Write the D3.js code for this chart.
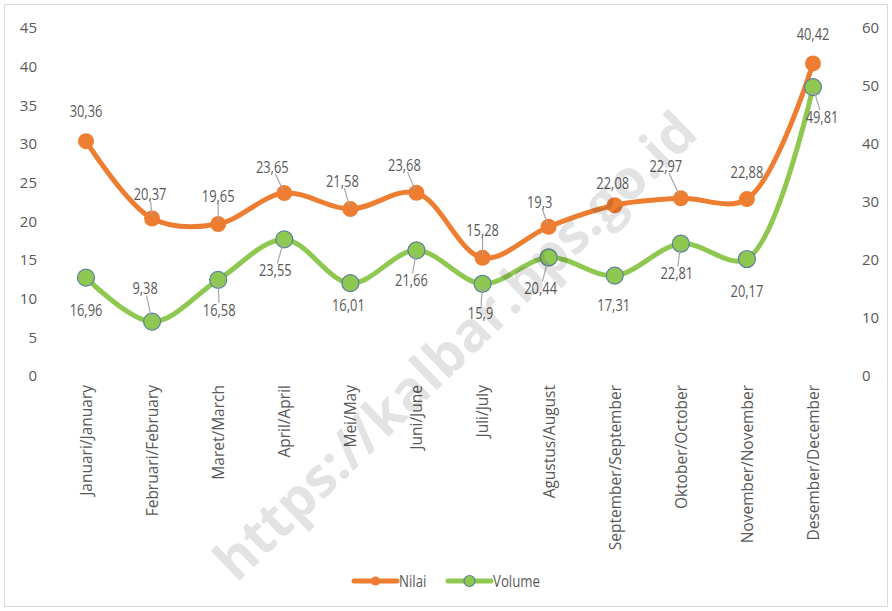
<!DOCTYPE html>
<html>
<head>
<meta charset="utf-8">
<script src="https://cdn.jsdelivr.net/npm/d3@7"></script>
<style>
  html, body { margin: 0; padding: 0; background: #fff; }
  svg { display: block; }
  .num { font-family: "Open Sans", sans-serif; }
  .tick text { font-family: "Open Sans", sans-serif; fill: #595959; }
</style>
</head>
<body>
<svg id="chart" width="892" height="611"></svg>
<script>
// ---- data ----
const months = ["Januari/January", "Februari/February", "Maret/March", "April/April", "Mei/May", "Juni/June",
  "Juli/July", "Agustus/August", "September/September", "Oktober/October", "November/November", "Desember/December"];
const nilai = [30.36, 20.37, 19.65, 23.65, 21.58, 23.68, 15.28, 19.3, 22.08, 22.97, 22.88, 40.42];
const volume = [16.96, 9.38, 16.58, 23.55, 16.01, 21.66, 15.9, 20.44, 17.31, 22.81, 20.17, 49.81];
const leftTicks = [0, 5, 10, 15, 20, 25, 30, 35, 40, 45];
const rightTicks = [0, 10, 20, 30, 40, 50, 60];
const seriesNames = ["Nilai", "Volume"];

// ---- label layout (offsets from point, leader flags) ----
const nilaiLabelOffset = [[0,-30],[-2,-24],[0,-28],[-12,-26],[-8,-28],[-12,-28],[0,-28],[-9,-25],[-2,-22],[-15,-32],[0,-27],[0,-29]];
const nilaiLeader = [0,1,1,1,1,1,1,1,0,1,0,0];
const volumeLabelOffset = [[0,33],[-7,-33],[1,30],[-9,31],[-2,22],[-5,30],[-2,29],[-8,31],[-1,30],[-4,30],[0,32],[9,30]];
const volumeLeader = [0,1,1,1,0,1,1,1,0,1,0,1];

const orange = "#ED7D31", green = "#8FC851", markerStroke = "#5A7EA3", textGray = "#595959";
const narrow = 0.78;

const svg = d3.select("#chart");

// border
svg.append("rect").attr("x", 4.5).attr("y", 4.5).attr("width", 883).attr("height", 602)
  .attr("fill", "#fff").attr("stroke", "#d9d9d9");

const x = d3.scalePoint().domain(months).range([86, 813]);
const yL = d3.scaleLinear().domain([0, 45]).range([376, 28]);
const yR = d3.scaleLinear().domain([0, 60]).range([376, 28]);

// axes
const gL = svg.append("g").attr("transform", "translate(40,0)")
  .call(d3.axisLeft(yL).tickValues(leftTicks).tickSize(0).tickPadding(3));
gL.select(".domain").remove();
gL.selectAll("text").attr("font-size", 15);

const gR = svg.append("g").attr("transform", "translate(858,0)")
  .call(d3.axisRight(yR).tickValues(rightTicks).tickSize(0).tickPadding(4));
gR.select(".domain").remove();
gR.selectAll("text").attr("font-size", 15);

const gX = svg.append("g").attr("transform", "translate(0,376)")
  .call(d3.axisBottom(x).tickSize(0).tickPadding(0));
gX.select(".domain").remove();
gX.selectAll("text")
  .attr("font-size", 15.5)
  .attr("text-anchor", "end")
  .attr("transform", "rotate(-90)")
  .attr("x", -9).attr("y", 0).attr("dy", "0.35em");

// lines
const lineN = d3.line().x((d, i) => x(months[i])).y(d => yL(d)).curve(d3.curveCatmullRom.alpha(0.5));
const lineV = d3.line().x((d, i) => x(months[i])).y(d => yR(d)).curve(d3.curveCatmullRom.alpha(0.5));

svg.append("path").datum(volume).attr("d", lineV).attr("fill", "none")
  .attr("stroke", green).attr("stroke-width", 5).attr("stroke-linecap", "round");
svg.append("path").datum(nilai).attr("d", lineN).attr("fill", "none")
  .attr("stroke", orange).attr("stroke-width", 5).attr("stroke-linecap", "round");

svg.append("g").selectAll("circle").data(volume).join("circle")
  .attr("cx", (d, i) => x(months[i])).attr("cy", d => yR(d)).attr("r", 8.5)
  .attr("fill", green).attr("stroke", markerStroke).attr("stroke-width", 1.2);
svg.append("g").selectAll("circle").data(nilai).join("circle")
  .attr("cx", (d, i) => x(months[i])).attr("cy", d => yL(d)).attr("r", 8)
  .attr("fill", orange);

// labels
const fmt = v => String(v).replace(".", ",");
function drawLabels(values, yScale, offsets, leaders) {
  const g = svg.append("g");
  values.forEach((v, i) => {
    const px = x(months[i]), py = yScale(v);
    const lx = px + offsets[i][0], ly = py + offsets[i][1];
    const t = g.append("text").attr("class", "num")
      .attr("transform", `translate(${lx},${ly}) scale(${narrow},1)`)
      .attr("dy", "0.35em")
      .attr("text-anchor", "middle").attr("font-size", 16.5).attr("fill", textGray)
      .text(fmt(v));
    if (leaders[i]) {
      const b = t.node().getBBox();
      const hw = b.width * narrow / 2 + 1, hh = 7;
      const dx = px - lx, dy = py - ly;
      const s = Math.min(dx !== 0 ? hw / Math.abs(dx) : Infinity, dy !== 0 ? hh / Math.abs(dy) : Infinity);
      g.insert("line", ":first-child")
        .attr("x1", lx + dx * s).attr("y1", ly + dy * s)
        .attr("x2", px - dx * 0.12).attr("y2", py - dy * 0.12)
        .attr("stroke", "#a6a6a6").attr("stroke-width", 1.2);
    }
  });
}
drawLabels(nilai, yL, nilaiLabelOffset, nilaiLeader);
drawLabels(volume, yR, volumeLabelOffset, volumeLeader);

// legend
const leg = svg.append("g").attr("transform", "translate(0,581)");
const legItems = [{name: seriesNames[0], c: orange, x0: 354, len: 43, stroke: null, r: 4.5},
                  {name: seriesNames[1], c: green, x0: 448, len: 43, stroke: markerStroke, r: 5.5}];
legItems.forEach(it => {
  leg.append("line").attr("x1", it.x0).attr("x2", it.x0 + it.len).attr("y1", 0).attr("y2", 0)
    .attr("stroke", it.c).attr("stroke-width", 5).attr("stroke-linecap", "round");
  leg.append("circle").attr("cx", it.x0 + it.len / 2).attr("cy", 0).attr("r", it.r)
    .attr("fill", it.c).attr("stroke", it.stroke || "none").attr("stroke-width", 1.2);
  leg.append("text").attr("class", "num")
    .attr("transform", `translate(${it.x0 + it.len + 2},0) scale(${narrow},1)`).attr("dy", "0.35em")
    .attr("font-size", 17).attr("fill", textGray).text(it.name);
});

// watermark
svg.append("text").attr("transform", "translate(455,346) rotate(-44)")
  .attr("text-anchor", "middle").attr("dy", "0.35em")
  .attr("font-family", "Open Sans, sans-serif").attr("font-weight", "bold")
  .attr("font-size", 55).attr("fill", "#000").attr("fill-opacity", 0.11)
  .text("https://kalbar.bps.go.id");
</script>
</body>
</html>
